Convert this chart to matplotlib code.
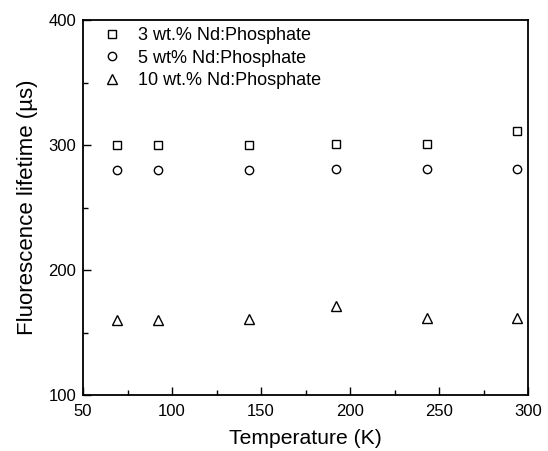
import matplotlib
matplotlib.use("Agg")
import matplotlib.pyplot as plt
from matplotlib.ticker import MultipleLocator

plt.rcParams['font.family'] = ['Liberation Sans', 'DejaVu Sans']

temperature = [69, 92, 143, 192, 243, 294]
nd3 = [300, 300, 300, 300.5, 301, 311]
nd5 = [280, 280, 280, 280.5, 281, 281]
nd10 = [160, 160, 160.5, 171, 161.5, 162]

labels = ["3 wt.% Nd:Phosphate", "5 wt% Nd:Phosphate", "10 wt.% Nd:Phosphate"]

W, H = 548, 451
fig = plt.figure(figsize=(W/100, H/100), dpi=100)
ax = fig.add_axes([83/W, 1 - 395/H, (528-83)/W, (395-20)/H])

ax.plot(temperature, nd3, linestyle='none', marker='s', ms=5.2, mfc='white', mec='black', mew=1.0, label=labels[0])
ax.plot(temperature, nd5, linestyle='none', marker='o', ms=6.0, mfc='white', mec='black', mew=1.0, label=labels[1])
ax.plot(temperature, nd10, linestyle='none', marker='^', ms=6.8, mfc='white', mec='black', mew=1.0, label=labels[2])

ax.set_xlim(50, 300)
ax.set_ylim(100, 400)
ax.xaxis.set_major_locator(MultipleLocator(50))
ax.xaxis.set_minor_locator(MultipleLocator(25))
ax.yaxis.set_major_locator(MultipleLocator(100))
ax.yaxis.set_minor_locator(MultipleLocator(50))
ax.tick_params(which='both', direction='in', top=False, right=False, labelsize=12, width=1.0)
ax.tick_params(axis='x', which='major', pad=6.5)
ax.tick_params(axis='y', which='major', pad=5)
ax.tick_params(which='major', length=6)
ax.tick_params(which='minor', length=3.5)
for s in ax.spines.values():
    s.set_linewidth(1.3)

ax.set_xlabel("Temperature (K)", fontsize=15.2, labelpad=7)
ax.set_ylabel("Fluorescence lifetime (\u00b5s)", fontsize=16, labelpad=7)

ax.legend(loc='upper left', frameon=False, fontsize=13, handlelength=1.5, handletextpad=0.7,
          borderaxespad=0.0, borderpad=0.4, labelspacing=0.3,
          bbox_to_anchor=(0.019, 1.0))

fig.savefig("out.png", dpi=100)
